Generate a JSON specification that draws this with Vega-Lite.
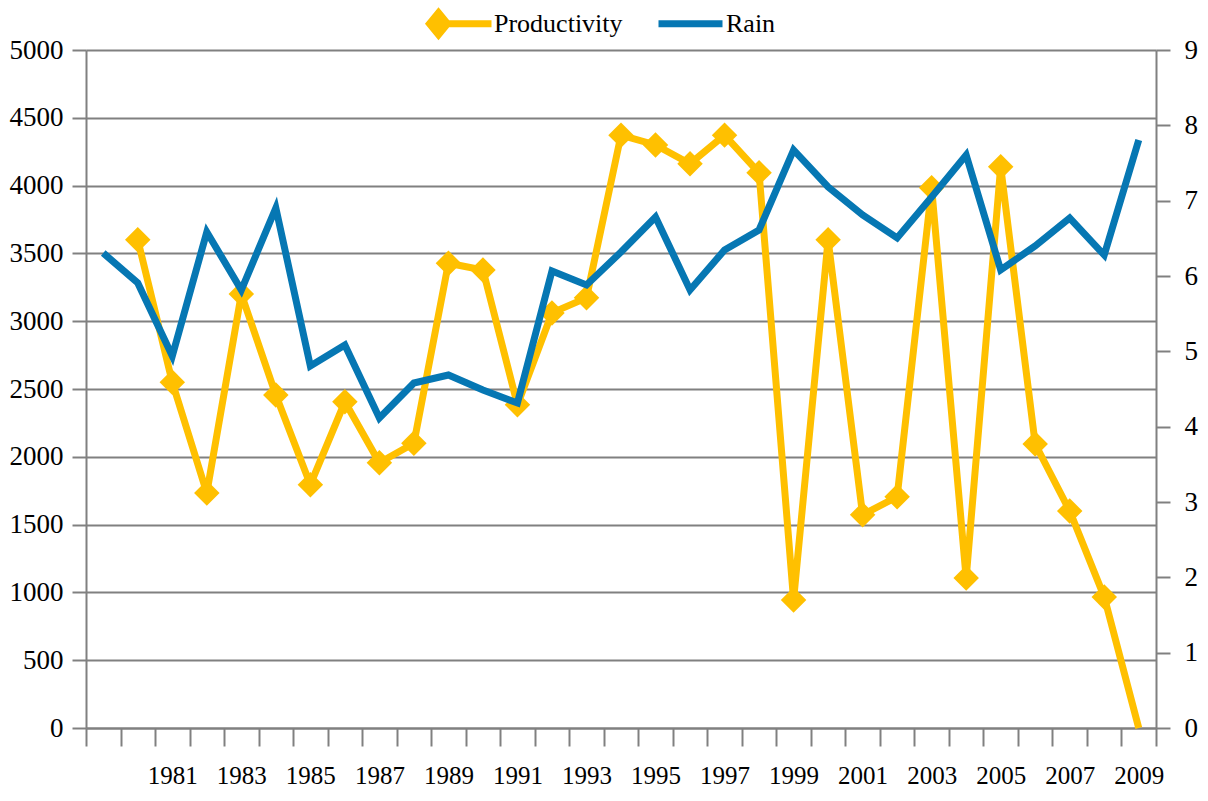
{
  "$schema": "https://vega.github.io/schema/vega-lite/v6.json",
  "width": 1070,
  "height": 678,
  "autosize": {"type": "none"},
  "padding": {"left": 86, "top": 50, "right": 52, "bottom": 73},
  "background": "white",
  "config": {
    "view": {"stroke": null},
    "font": "Liberation Serif",
    "axis": {"labelFont": "Liberation Serif", "labelColor": "black", "domainColor": "#808080", "domainWidth": 2, "tickColor": "#808080", "tickWidth": 2, "title": null}
  },
  "data": {"values": [
    {"year": 1979, "rain": 3503, "productivity": null},
    {"year": 1980, "rain": 3282, "productivity": 6.48},
    {"year": 1981, "rain": 2743, "productivity": 4.59},
    {"year": 1982, "rain": 3658, "productivity": 3.12},
    {"year": 1983, "rain": 3230, "productivity": 5.76},
    {"year": 1984, "rain": 3835, "productivity": 4.42},
    {"year": 1985, "rain": 2670, "productivity": 3.23},
    {"year": 1986, "rain": 2825, "productivity": 4.33},
    {"year": 1987, "rain": 2286, "productivity": 3.52},
    {"year": 1988, "rain": 2544, "productivity": 3.78},
    {"year": 1989, "rain": 2603, "productivity": 6.17},
    {"year": 1990, "rain": 2493, "productivity": 6.08},
    {"year": 1991, "rain": 2397, "productivity": 4.29},
    {"year": 1992, "rain": 3370, "productivity": 5.51},
    {"year": 1993, "rain": 3267, "productivity": 5.71},
    {"year": 1994, "rain": 3510, "productivity": 7.87},
    {"year": 1995, "rain": 3769, "productivity": 7.74},
    {"year": 1996, "rain": 3230, "productivity": 7.49},
    {"year": 1997, "rain": 3525, "productivity": 7.87},
    {"year": 1998, "rain": 3673, "productivity": 7.37},
    {"year": 1999, "rain": 4263, "productivity": 1.70},
    {"year": 2000, "rain": 3990, "productivity": 6.48},
    {"year": 2001, "rain": 3783, "productivity": 2.83},
    {"year": 2002, "rain": 3614, "productivity": 3.07},
    {"year": 2003, "rain": 3916, "productivity": 7.17},
    {"year": 2004, "rain": 4226, "productivity": 1.99},
    {"year": 2005, "rain": 3378, "productivity": 7.45},
    {"year": 2006, "rain": 3555, "productivity": 3.77},
    {"year": 2007, "rain": 3761, "productivity": 2.88},
    {"year": 2008, "rain": 3488, "productivity": 1.74},
    {"year": 2009, "rain": 4336, "productivity": 0}
  ]},
  "encoding": {
    "x": {
      "field": "year", "type": "ordinal",
      "scale": {"type": "band", "paddingInner": 0, "paddingOuter": 0},
      "axis": {
        "tickBand": "extent", "tickSize": 18, "labelAngle": 0, "labelFontSize": 25, "labelPadding": 17,
        "labelOverlap": false,
        "labelExpr": "datum.value % 2 === 1 && datum.value > 1980 ? datum.label : ''"
      }
    }
  },
  "layer": [
    {
      "transform": [{"filter": "datum.productivity != null"}],
      "mark": {"type": "line", "strokeWidth": 7, "strokeJoin": "miter"},
      "encoding": {
        "y": {"field": "productivity", "type": "quantitative", "scale": {"domain": [0, 9], "nice": false},
          "axis": {"orient": "right", "values": [0,1,2,3,4,5,6,7,8,9], "grid": false, "tickSize": 14, "labelPadding": 14, "labelFontSize": 27}},
        "color": {"datum": "Productivity", "type": "nominal",
          "scale": {"domain": ["Productivity", "Rain"], "range": ["#FFC000", "#0677B3"]},
          "legend": {
            "orient": "none", "legendX": 337, "legendY": -40, "direction": "horizontal", "title": null,
            "symbolSize": 400, "symbolStrokeWidth": 7, "labelOffset": 44, "columnPadding": 21, "padding": 0,
            "labelFont": "Liberation Serif", "labelFontSize": 26, "labelColor": "black",
            "encoding": {"symbols": {
              "shape": {"condition": {"test": "datum.value === 'Rain'", "value": "M-1,0H5.4M2,-1.1M2,1.1"}, "value": "M0.2,0H5.5M0.2,-1.1L1.1,0L0.2,1.1L-0.7,0Z"},
              "fill": {"condition": {"test": "datum.value === 'Rain'", "value": "transparent"}, "value": "#FFC000"},
              "stroke": {"condition": {"test": "datum.value === 'Rain'", "value": "#0A5EA6"}, "value": "#FFC000"},
              "strokeWidth": {"value": 7}
            }}
          }}
      }
    },
    {
      "transform": [{"filter": "datum.productivity > 0"}],
      "mark": {"type": "point", "shape": "diamond", "filled": true, "size": 650, "opacity": 1},
      "encoding": {
        "y": {"field": "productivity", "type": "quantitative", "scale": {"domain": [0, 9], "nice": false}, "axis": null},
        "color": {"datum": "Productivity", "type": "nominal"}
      }
    },
    {
      "mark": {"type": "line", "strokeWidth": 7, "strokeJoin": "miter"},
      "encoding": {
        "y": {"field": "rain", "type": "quantitative", "scale": {"domain": [0, 5000], "nice": false},
          "axis": {"orient": "left", "format": "d", "values": [0,500,1000,1500,2000,2500,3000,3500,4000,4500,5000], "grid": true, "gridColor": "#808080", "gridWidth": 2, "tickSize": 14, "labelPadding": 9, "labelFontSize": 27}},
        "color": {"datum": "Rain", "type": "nominal"}
      }
    }
  ],
  "resolve": {"scale": {"y": "independent"}, "axis": {"y": "independent"}}
}
